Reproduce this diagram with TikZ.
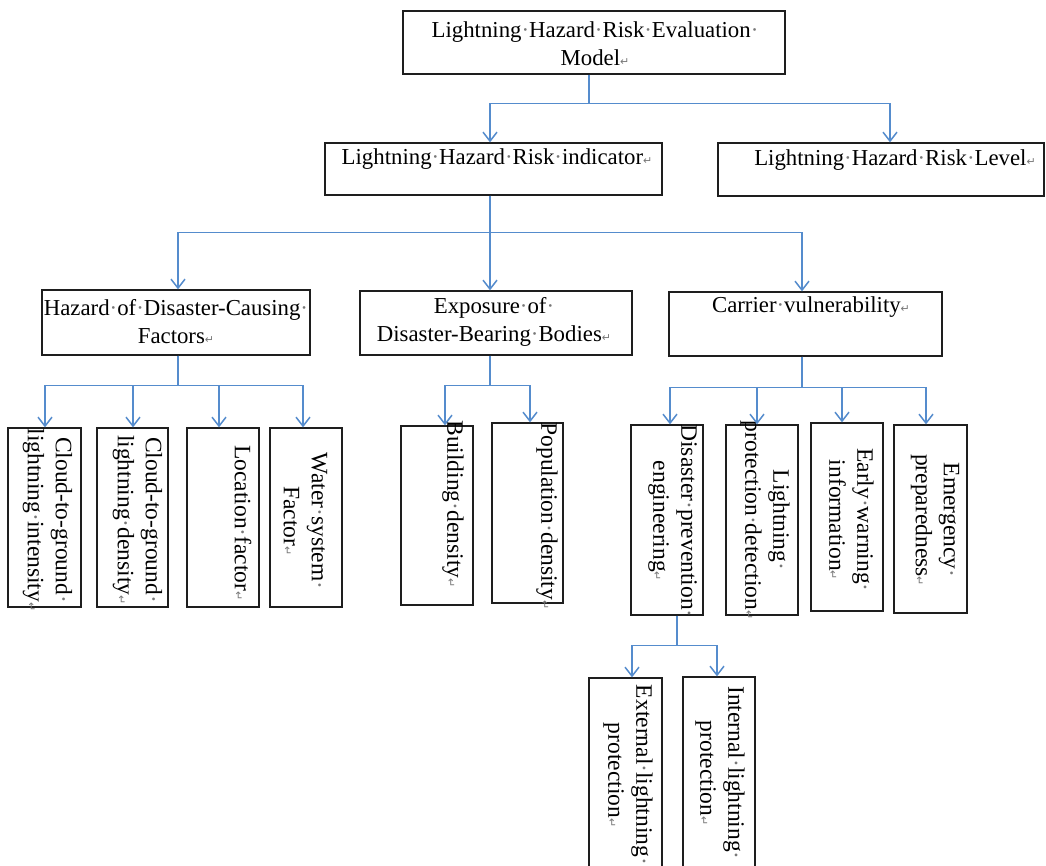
\documentclass[tikz,border=0pt]{standalone}
\usepackage{fontspec}
\setmainfont{Liberation Serif}
\newfontfamily\symfont{DejaVu Sans}
\usetikzlibrary{arrows.meta}
\definecolor{connblue}{RGB}{85,140,205}
\definecolor{markgray}{RGB}{120,120,120}
\definecolor{edgecol}{RGB}{30,30,30}
\newcommand{\spc}{{\color{markgray}·}}
\newcommand{\retmark}{{\color{markgray}\symfont\fontsize{11}{11}\selectfont ↵}}
\begin{document}
\begin{tikzpicture}[x=1pt,y=-1pt,
  box/.style={draw=edgecol, line width=1.3pt, rectangle, inner sep=0pt},
  htext/.style={font=\fontsize{22.8}{28}\selectfont, align=center, inner sep=0pt},
  vtext/.style={font=\fontsize{23.5}{28}\selectfont, align=center, inner sep=0pt, rotate=-90},
  arr/.style={draw=connblue, line width=1.5pt, -{Straight Barb[length=9pt,width=14pt]}}]
\useasboundingbox (0,0) rectangle (1046,865);
\fill[white] (0,0) rectangle (1046,865);
\clip (0,0) rectangle (1046,865);

% boxes
\node[box, minimum width=382, minimum height=63] (top) at (594,42.5) {};
\node[box, minimum width=337, minimum height=52] (ind) at (493.5,169) {};
\node[box, minimum width=326, minimum height=53] (lvl) at (881,169.5) {};
\node[box, minimum width=268, minimum height=65] (haz) at (176,322.5) {};
\node[box, minimum width=272, minimum height=64] (exp) at (496,323) {};
\node[box, minimum width=273, minimum height=64] (car) at (805.5,324) {};
\node[box, minimum width=73, minimum height=179] (c1) at (44.5,517.5) {};
\node[box, minimum width=71, minimum height=179] (c2) at (132.5,517.5) {};
\node[box, minimum width=72, minimum height=179] (loc) at (223,517.5) {};
\node[box, minimum width=72, minimum height=179] (wat) at (306,517.5) {};
\node[box, minimum width=72, minimum height=179] (bld) at (437,515.5) {};
\node[box, minimum width=71, minimum height=180] (pop) at (527.5,513) {};
\node[box, minimum width=72, minimum height=190] (dpe) at (667,520) {};
\node[box, minimum width=72, minimum height=190] (lpd) at (762,520) {};
\node[box, minimum width=72, minimum height=188] (ewi) at (847,517) {};
\node[box, minimum width=73, minimum height=188] (emg) at (930.5,519) {};
\node[box, minimum width=73, minimum height=222] (ext) at (625.5,789) {};
\node[box, minimum width=72, minimum height=223] (int) at (719,788.5) {};

% texts
\node[htext] (topt) at (595,44) {Lightning\spc Hazard\spc Risk\spc Evaluation\spc\\Model\retmark};
\node[htext] (indt) at (497,159) {Lightning\spc Hazard\spc Risk\spc indicator\retmark};
\node[htext] (lvlt) at (895,160) {Lightning\spc Hazard\spc Risk\spc Level\retmark};
\node[htext] (hazt) at (176,322) {Hazard\spc of\spc Disaster-Causing\spc\\Factors\retmark};
\node[htext] (expt) at (494,322) {Exposure\spc of\spc\\Disaster-Bearing\spc Bodies\retmark};
\node[htext] (cart) at (811,307) {Carrier\spc vulnerability\retmark};

\node[vtext] (c1t) at (47.5,520) {Cloud-to-ground\spc\\lightning\spc intensity\retmark};
\node[vtext] (c2t) at (137.5,520) {Cloud-to-ground\spc\\lightning\spc density\retmark};
\node[vtext] (loct) at (243,523) {Location\spc factor\retmark};
\node[vtext] (watt) at (305.5,521) {Water\spc system\spc\\Factor\retmark};
\node[vtext] (bldt) at (453,504) {Building\spc density\retmark};
\node[vtext] (popt) at (547,516) {Population\spc density\retmark};
\node[vtext] (dpet) at (672.5,521) {Disaster\spc prevention\spc\\engineering\retmark};
\node[vtext] (lpdt) at (765,520) {Lightning\spc\\protection\spc detection\retmark};
\node[vtext] (ewit) at (851.5,520) {Early\spc warning\spc\\information\retmark};
\node[vtext] (emgt) at (935,520) {Emergency\spc\\preparedness\retmark};
\node[vtext] (extt) at (628,775) {External\spc lightning\spc\\protection\retmark};
\node[vtext] (intt) at (720,773) {Internal\spc lightning\spc\\protection\retmark};

% connectors
\draw[arr] ([xshift=-5]top.south) -- ++(0,29) -| ([xshift=-3.5]ind.north);
\draw[arr] ([xshift=-5]top.south) -- ++(0,29) -| ([xshift=9]lvl.north);

\draw[arr] ([xshift=-3.5]ind.south) -- ++(0,37) -| ([xshift=2]haz.north);
\draw[arr] ([xshift=-3.5]ind.south) -- ++(0,37) -| ([xshift=-6]exp.north);
\draw[arr] ([xshift=-3.5]ind.south) -- ++(0,37) -| ([xshift=-3.5]car.north);

\draw[arr] ([xshift=2]haz.south) -- ++(0,30) -| ([xshift=0.5]c1.north);
\draw[arr] ([xshift=2]haz.south) -- ++(0,30) -| ([xshift=0.5]c2.north);
\draw[arr] ([xshift=2]haz.south) -- ++(0,30) -| ([xshift=-4]loc.north);
\draw[arr] ([xshift=2]haz.south) -- ++(0,30) -| ([xshift=-3]wat.north);

\draw[arr] ([xshift=-6]exp.south) -- ++(0,30) -| ([xshift=8]bld.north);
\draw[arr] ([xshift=-6]exp.south) -- ++(0,30) -| ([xshift=2.5]pop.north);

\draw[arr] ([xshift=-3.5]car.south) -- ++(0,31) -| ([xshift=3]dpe.north);
\draw[arr] ([xshift=-3.5]car.south) -- ++(0,31) -| ([xshift=-5]lpd.north);
\draw[arr] ([xshift=-3.5]car.south) -- ++(0,31) -| ([xshift=-5]ewi.north);
\draw[arr] ([xshift=-3.5]car.south) -- ++(0,31) -| ([xshift=-4.5]emg.north);

\draw[arr] ([xshift=10]dpe.south) -- ++(0,30) -| ([xshift=6.5]ext.north);
\draw[arr] ([xshift=10]dpe.south) -- ++(0,30) -| ([xshift=-2]int.north);
\end{tikzpicture}
\end{document}
